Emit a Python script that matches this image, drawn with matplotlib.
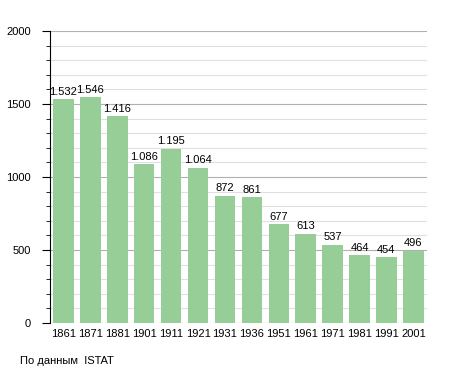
import matplotlib
matplotlib.use("Agg")
import matplotlib.pyplot as plt
from matplotlib.ticker import MultipleLocator

plt.rcParams['font.family'] = ['Liberation Sans', 'DejaVu Sans']

years = ['1861', '1871', '1881', '1901', '1911', '1921', '1931', '1936',
         '1951', '1961', '1971', '1981', '1991', '2001']
population = [1532, 1546, 1416, 1086, 1195, 1064, 872, 861, 677, 613, 537, 464, 454, 496]
labels = ['1.532', '1.546', '1.416', '1.086', '1.195', '1.064', '872', '861',
          '677', '613', '537', '464', '454', '496']

fig = plt.figure(figsize=(4.55, 3.73), dpi=100)
ax = fig.add_axes([0.11, 0.134, 0.828, 0.783])

x = list(range(len(years)))
ax.bar(x, population, width=0.76, color='#97cd97', zorder=2)
for xi, v, lab in zip(x, population, labels):
    ax.text(xi, v + 15, lab, ha='center', va='bottom', fontsize=8, zorder=3)

ax.set_xlim(-0.5, len(years) - 0.5)
ax.set_ylim(0, 2000)
ax.yaxis.set_major_locator(MultipleLocator(500))
ax.yaxis.set_minor_locator(MultipleLocator(100))
ax.grid(axis='y', which='major', color='#b0b0b0', linewidth=0.8, zorder=0)
ax.grid(axis='y', which='minor', color='#e0e0e0', linewidth=0.8, zorder=0)
ax.set_xticks(x)
ax.set_xticklabels(years)
ax.tick_params(axis='x', length=0, labelsize=8, pad=4)
ax.tick_params(axis='y', which='major', length=6, labelsize=8, pad=8)
ax.tick_params(axis='y', which='minor', length=3)
for s in ['top', 'right', 'bottom']:
    ax.spines[s].set_visible(False)
ax.spines['left'].set_color('black')

fig.text(0.045, 0.025, 'По данным  ISTAT', fontsize=8)

fig.savefig('out.png', dpi=100)
